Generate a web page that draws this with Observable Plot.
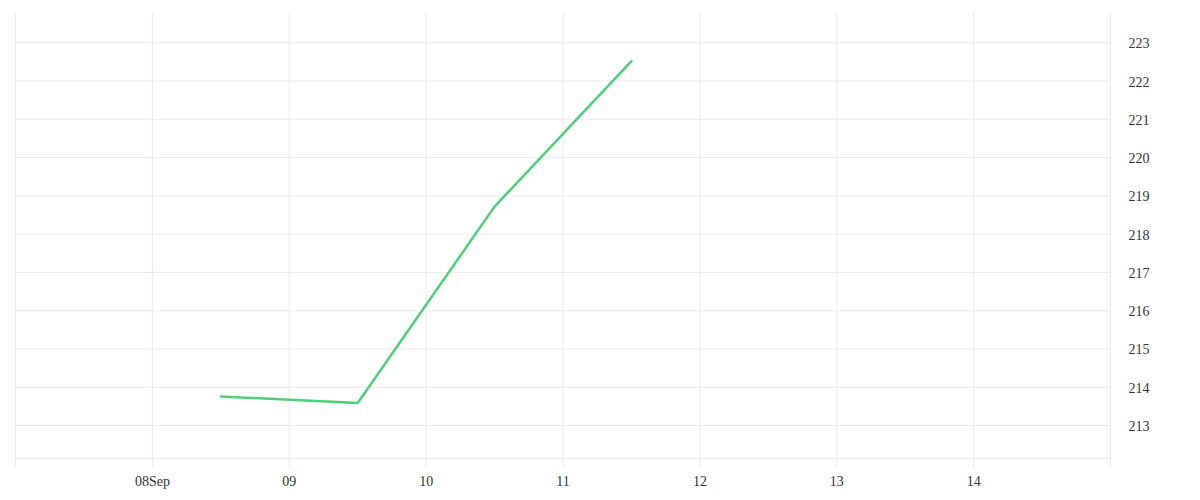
<!DOCTYPE html>
<html><head><meta charset="utf-8">
<script src="https://cdn.jsdelivr.net/npm/d3@7"></script>
<script src="https://cdn.jsdelivr.net/npm/@observablehq/plot@0.6"></script>
<style>body{margin:0;background:#fff}</style>
</head><body><div id="chart"></div>
<script>
const dayStrings = ["2023-09-07","2023-09-08","2023-09-09","2023-09-10","2023-09-11","2023-09-12","2023-09-13","2023-09-14","2023-09-15"];
const dayLabels = ["", "08Sep", "09", "10", "11", "12", "13", "14", ""];
const pointTimes = ["2023-09-08T12:00Z","2023-09-09T12:00Z","2023-09-10T12:00Z","2023-09-11T12:00Z"];
const prices = [213.76, 213.59, 218.72, 222.52];
const yTicks = [213, 214, 215, 216, 217, 218, 219, 220, 221, 222, 223];
const yDomain = [212.14, 223.79];

const days = dayStrings.map(s => new Date(s + "T00:00Z"));
const labelMap = new Map(days.map((d, i) => [+d, dayLabels[i]]));
const data = pointTimes.map((t, i) => ({date: new Date(t), price: prices[i]}));

const grid = "#ebebeb";
const chart = Plot.plot({
  width: 1200,
  height: 500,
  marginLeft: 15,
  marginRight: 90,
  marginTop: 12,
  marginBottom: 42,
  style: {fontFamily: "'Liberation Serif', serif", fontSize: "14px", color: "#333", background: "#fff"},
  x: {type: "utc", domain: [days[0], days[days.length - 1]], label: null},
  y: {domain: yDomain, label: null},
  marks: [
    Plot.gridX(days, {stroke: grid, strokeOpacity: 1}),
    Plot.gridY(yTicks, {stroke: grid, strokeOpacity: 1}),
    Plot.frame({anchor: "bottom", stroke: grid}),
    Plot.axisX(days, {tickSize: 10, tickPadding: 8, stroke: grid, fill: "#333", label: null, tickFormat: d => labelMap.get(+d)}),
    Plot.axisY(yTicks, {anchor: "right", tickSize: 0, tickPadding: 18, fill: "#333", dy: 1, label: null}),
    Plot.lineY(data, {x: "date", y: "price", stroke: "#4ecf7a", strokeWidth: 2.5})
  ]
});
document.getElementById("chart").append(chart);
</script>
</body></html>
